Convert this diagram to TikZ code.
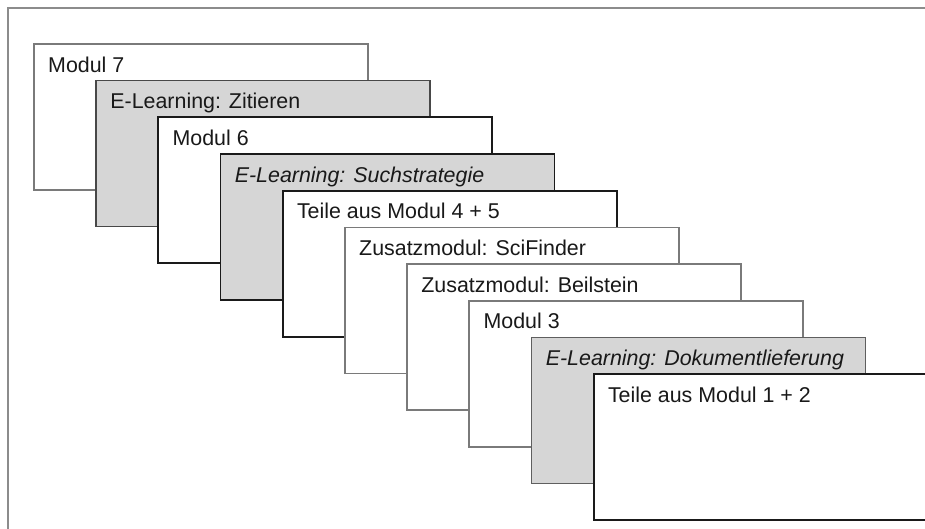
\documentclass[tikz,border=0pt]{standalone}
\usepackage{fontspec}
\setmainfont{Liberation Sans}
\definecolor{framegray}{HTML}{8C8C8C}
\definecolor{boxgray}{HTML}{D6D6D6}
\definecolor{lightedge}{HTML}{7A7A7A}
\definecolor{darkedge}{HTML}{1A1A1A}
\begin{document}
\begin{tikzpicture}[x=1pt,y=-1pt,
  modbox/.style={draw, line width=1.7pt, rectangle, anchor=north west, inner sep=0pt,
    minimum width=334pt, minimum height=146pt, fill=white},
  lightbox/.style={modbox, draw=lightedge},
  darkbox/.style={modbox, draw=darkedge},
  greybox/.style={modbox, fill=boxgray},
  lbl/.style={anchor=base west, inner sep=0pt, font=\fontsize{21.4}{25}\selectfont, text=black!90}
]
\useasboundingbox (0,0) rectangle (925,528);
\clip (0,0) rectangle (925,528);
\fill[white] (0,0) rectangle (925,528);
\node[draw=framegray, line width=1.8pt, rectangle, anchor=north west, inner sep=0pt,
  minimum width=950pt, minimum height=560pt] (frame) at (7,7) {};

\node[lightbox] (b1) at (33,43) {};
\node[lbl] (t1) at ([shift={(15pt,-29pt)}]b1.north west) {Modul 7};

\node[greybox, draw=darkedge!80] (b2) at (95.2,79.7) {};
\node[lbl] (t2) at ([shift={(15pt,-29pt)}]b2.north west) {E-Learning: Zitieren};

\node[darkbox] (b3) at (157.4,116.4) {};
\node[lbl] (t3) at ([shift={(15pt,-29pt)}]b3.north west) {Modul 6};

\node[greybox, draw=darkedge] (b4) at (219.6,153.1) {};
\node[lbl] (t4) at ([shift={(15pt,-29pt)}]b4.north west) {\itshape E-Learning: Suchstrategie};

\node[darkbox] (b5) at (281.8,189.8) {};
\node[lbl] (t5) at ([shift={(15pt,-29pt)}]b5.north west) {Teile aus Modul 4 + 5};

\node[lightbox] (b6) at (344,226.5) {};
\node[lbl] (t6) at ([shift={(15pt,-29pt)}]b6.north west) {Zusatzmodul: SciFinder};

\node[lightbox] (b7) at (406.2,263.2) {};
\node[lbl] (t7) at ([shift={(15pt,-29pt)}]b7.north west) {Zusatzmodul: Beilstein};

\node[lightbox] (b8) at (468.4,299.9) {};
\node[lbl] (t8) at ([shift={(15pt,-29pt)}]b8.north west) {Modul 3};

\node[greybox, draw=darkedge!70] (b9) at (530.6,336.6) {};
\node[lbl] (t9) at ([shift={(15pt,-29pt)}]b9.north west) {\itshape E-Learning: Dokumentlieferung};

\node[darkbox] (b10) at (592.8,373.3) {};
\node[lbl] (t10) at ([shift={(15pt,-29pt)}]b10.north west) {Teile aus Modul 1 + 2};
\end{tikzpicture}
\end{document}
